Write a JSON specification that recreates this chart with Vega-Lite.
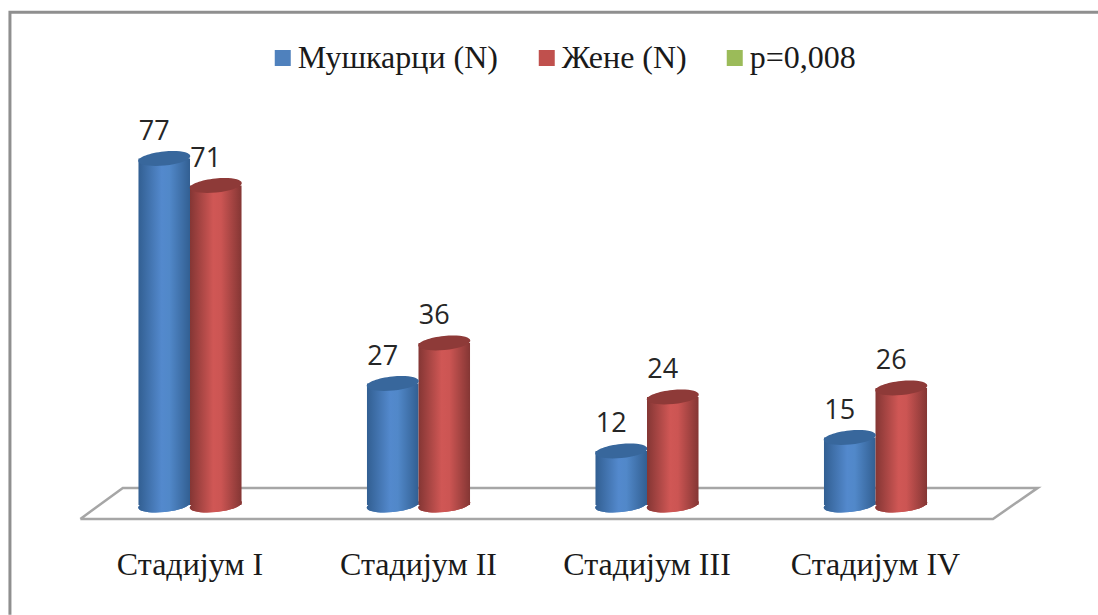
{
"$schema":"https://vega.github.io/schema/vega-lite/v6.json",
"autosize":"none","width":914,"height":450,
"padding":{"left":75.75,"top":55,"right":108.25,"bottom":110},
"background":"white",
"config":{"view":{"stroke":null}},
"datasets":{
"bars":[
{"stage":"Стадијум I","series":"Мушкарци (N)","value":77},
{"stage":"Стадијум I","series":"Жене (N)","value":71},
{"stage":"Стадијум II","series":"Мушкарци (N)","value":27},
{"stage":"Стадијум II","series":"Жене (N)","value":36},
{"stage":"Стадијум III","series":"Мушкарци (N)","value":12},
{"stage":"Стадијум III","series":"Жене (N)","value":24},
{"stage":"Стадијум IV","series":"Мушкарци (N)","value":15},
{"stage":"Стадијум IV","series":"Жене (N)","value":26}],
"floor":[{"i":1,"px":0.02,"py":-3.1},{"i":2,"px":0.206,"py":3.8},{"i":3,"px":4.21,"py":3.8},{"i":4,"px":4.014,"py":-3.1},{"i":5,"px":0.02,"py":-3.1}],
"frame":[{"i":1,"px":-0.288,"py":-24.4},{"i":2,"px":-0.288,"py":109.5},{"i":3,"px":4.5,"py":109.5}]
},
"layer":[
{"data":{"name":"floor"},"mark":{"type":"line","color":"#a6a6a6","strokeWidth":2.5,"strokeJoin":"miter"},
"encoding":{"x":{"field":"px","type":"quantitative","axis":null,"scale":{"domain":[0,4],"nice":false,"zero":false}},
"y":{"field":"py","type":"quantitative","axis":null,"scale":{"domain":[0,100]}},"order":{"field":"i"}}},
{"data":{"name":"frame"},"mark":{"type":"line","color":"#8f8f8f","strokeWidth":3,"strokeJoin":"miter"},
"encoding":{"x":{"field":"px","type":"quantitative","axis":null,"scale":{"domain":[0,4],"nice":false,"zero":false}},
"y":{"field":"py","type":"quantitative","axis":null,"scale":{"domain":[0,100]}},"order":{"field":"i"}}},
{"data":{"name":"bars"},
"encoding":{
"x":{"field":"stage","type":"nominal","sort":null,"scale":{"paddingInner":0.549,"paddingOuter":0.2745},
"axis":{"title":null,"domain":false,"ticks":false,"labelAngle":0,"labelPadding":44,"labelFont":"Liberation Serif","labelFontSize":32,"labelColor":"#1a1a1a"}},
"xOffset":{"field":"series","type":"nominal","scale":{"domain":["Мушкарци (N)","Жене (N)"],"paddingInner":0,"paddingOuter":0}},
"y":{"field":"value","type":"quantitative","axis":null,"scale":{"domain":[0,100]}}},
"layer":[
{"mark":{"type":"point","filled":true,"opacity":1,"size":2704,"shape":"M-1,0.1A1,0.27,-6,1,1,1,-0.1A1,0.27,-6,1,1,-1,0.1Z"},
"encoding":{"y":{"datum":0,"type":"quantitative"},
"color":{"field":"series","type":"nominal","scale":{"domain":["Мушкарци (N)","Жене (N)","p=0,008"],"range":["#4f81bd","#c0504d","#9bbb59"]},
"legend":{"title":null,"orient":"none","legendX":191,"legendY":-13,"direction":"horizontal","symbolType":"square","symbolSize":256,"symbolStrokeWidth":0,"symbolOpacity":1,"labelFont":"Liberation Serif","labelFontSize":32,"labelColor":"#1a1a1a","labelOffset":-1,"columnPadding":32,"labelLimit":400,"padding":0}}}},
{"mark":{"type":"point","filled":true,"opacity":1,"size":2704,"shape":"M-1,0.1A1,0.27,-6,1,1,1,-0.1A1,0.27,-6,1,1,-1,0.1Z"},
"encoding":{"y":{"datum":0,"type":"quantitative"},"color":{"condition":{"test":"datum.series==='Жене (N)'","value":{"x1":0,"y1":0,"x2":1,"y2":0,"gradient":"linear","stops":[{"offset":0,"color":"#843634"},{"offset":0.45,"color":"#d05755"},{"offset":0.6,"color":"#cc5553"},{"offset":1,"color":"#843634"}]}},
"value":{"x1":0,"y1":0,"x2":1,"y2":0,"gradient":"linear","stops":[{"offset":0,"color":"#325f92"},{"offset":0.45,"color":"#5389cd"},{"offset":0.6,"color":"#5188c9"},{"offset":1,"color":"#325f92"}]}}}},
{"mark":{"type":"bar"},
"encoding":{"color":{"condition":{"test":"datum.series==='Жене (N)'","value":{"x1":0,"y1":0,"x2":1,"y2":0,"gradient":"linear","stops":[{"offset":0,"color":"#843634"},{"offset":0.45,"color":"#d05755"},{"offset":0.6,"color":"#cc5553"},{"offset":1,"color":"#843634"}]}},
"value":{"x1":0,"y1":0,"x2":1,"y2":0,"gradient":"linear","stops":[{"offset":0,"color":"#325f92"},{"offset":0.45,"color":"#5389cd"},{"offset":0.6,"color":"#5188c9"},{"offset":1,"color":"#325f92"}]}}}},
{"mark":{"type":"point","filled":true,"opacity":1,"size":2704,"shape":"M-1,0.1A1,0.27,-6,1,1,1,-0.1A1,0.27,-6,1,1,-1,0.1Z"},
"encoding":{"color":{"condition":{"test":"datum.series==='Жене (N)'","value":"#8e3a38"},"value":"#38679c"}}},
{"mark":{"type":"text","font":"Open Sans","fontSize":27,"color":"#262626","dx":-10,"dy":-27,"baseline":"middle","align":"center"},
"encoding":{"text":{"field":"value","type":"quantitative"}}}
]}
],
"resolve":{"scale":{"x":"independent"}}
}
